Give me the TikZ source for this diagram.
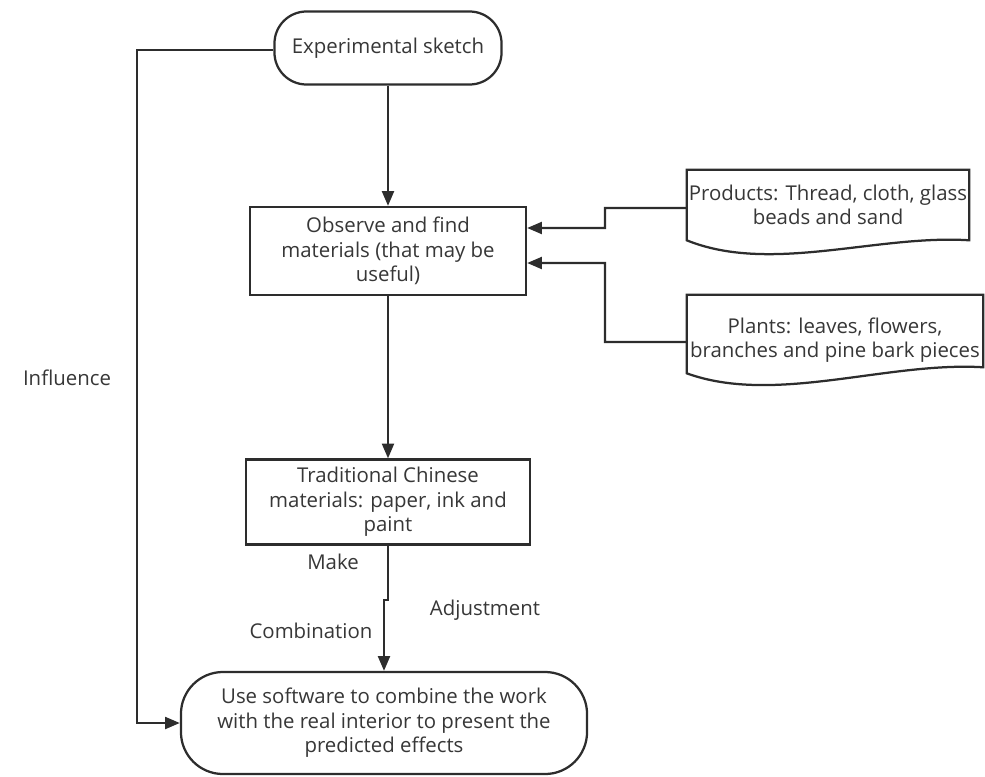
\documentclass[tikz,border=0pt]{standalone}
\usepackage{fontspec}
\setmainfont{Open Sans}
\usepackage{tikz}
\usetikzlibrary{positioning,arrows}
\usetikzlibrary{arrows.meta}
\tikzset{>=Stealth}
\definecolor{linecol}{RGB}{45,45,45}
\definecolor{textcol}{RGB}{55,55,55}
\tikzset{
  txt/.style={text=textcol, font=\fontsize{14.5}{17.5}\selectfont, align=center},
  roundbox/.style={txt, draw=linecol, line width=1.6pt, fill=white},
  flowbox/.style={txt, draw=linecol, line width=1.6pt, fill=white, inner sep=2pt},
  docnode/.style={txt, inner sep=0pt},
  arr/.style={draw=linecol, line width=1.6pt, -{Triangle[length=10.5pt,width=8.5pt]}},
  docline/.style={draw=linecol, line width=1.6pt, fill=white}
}

\begin{document}
\begin{tikzpicture}[x=0.025cm, y=-0.025cm]
            \useasboundingbox (0,0) rectangle (985,776);

            % Main column
            \node[roundbox, rounded corners=0.8cm, minimum width=5.675cm, minimum height=1.825cm] (sketch) at (388,48) {Experimental sketch};
            \node[flowbox, minimum width=6.9cm, minimum height=2.2cm] (obs) at (388,251) {Observe and find\\materials (that may be\\useful)};
            \node[flowbox, minimum width=7.1cm, minimum height=2.125cm] (trad) at (388,502) {Traditional Chinese\\materials: paper, ink and\\paint};
            \node[roundbox, rounded corners=1.05cm, minimum width=10.15cm, minimum height=2.55cm] (use) at (384,723) {Use software to combine the work\\with the real interior to present the\\predicted effects};

            % Document shapes on the right
            \node[docnode, minimum width=7.05cm, minimum height=1.75cm] (prod) at (828,205) {};
            \draw[docline] (prod.north west) -- (prod.north east) -- (prod.south east)
                .. controls ([xshift=-2.3cm, yshift=0.15cm]prod.south east) and ([xshift=2.1cm, yshift=-0.85cm]prod.south west) .. (prod.south west) -- cycle;
            \node[txt] at (prod.center) {Products: Thread, cloth, glass\\beads and sand};

            \node[docnode, minimum width=7.4cm, minimum height=1.95cm] (plants) at (835,334) {};
            \draw[docline] (plants.north west) -- (plants.north east) -- ([yshift=0.15cm]plants.south east)
                .. controls ([xshift=-2.4cm, yshift=0.3cm]plants.south east) and ([xshift=2.2cm, yshift=-0.8cm]plants.south west) .. (plants.south west) -- cycle;
            \node[txt] at ([yshift=-0.15cm]plants.center) {Plants: leaves, flowers,\\branches and pine bark pieces};

            % Connectors
            \draw[arr] (sketch.south) -- (obs.north);
            \draw[arr] (obs.south) -- (trad.north);
            \draw[arr] ([yshift=-0.075cm]prod.west) -| (605,228) -- ([yshift=0.575cm]obs.east);
            \draw[arr] ([yshift=-0.2cm]plants.west) -| (605,263) -- ([yshift=-0.3cm]obs.east);
            \draw[arr] (trad.south) |- (384,600) -- (use.north);
            \draw[arr] ([yshift=-0.05cm]sketch.west) -| (137,723) -- (use.west);

            % Labels
            \node[txt] (make) at (333,562) {Make};
            \node[txt] (comb) at (311,631) {Combination};
            \node[txt] (adj) at (485,610) {Adjustment};
            \node[txt] (infl) at (67,378) {Influence};

        \end{tikzpicture}
\end{document}
